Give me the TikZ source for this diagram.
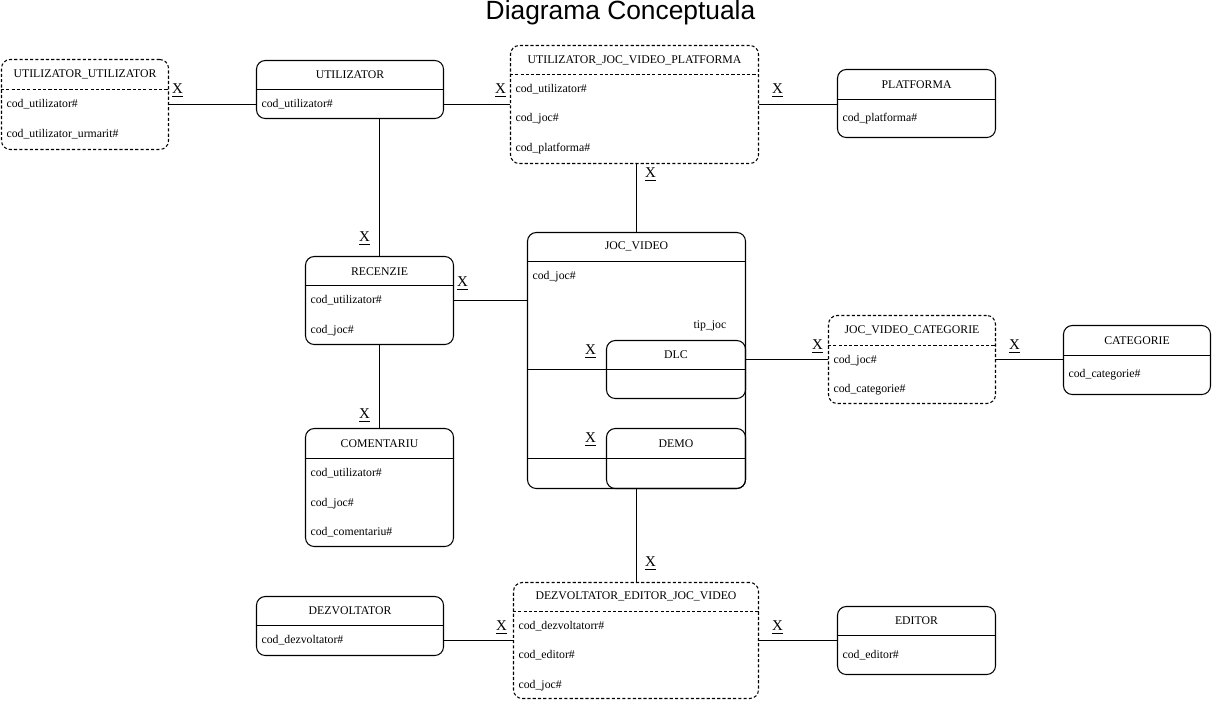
\documentclass[tikz,border=0pt]{standalone}
\usepackage{fontspec}
\setmainfont{Liberation Serif}
\newfontfamily\titlufont{Liberation Sans}
\usetikzlibrary{fit}

\tikzset{
    tabel/.style={draw, rounded corners=5pt, line width=0.6pt, inner sep=0pt},
    asoc/.style={tabel, dash pattern=on 1.8pt off 1.2pt},
    antet/.style={inner sep=1pt, font=\fontsize{6.7}{8}\selectfont},
    atribut/.style={anchor=west, inner sep=1pt, font=\fontsize{6.7}{8}\selectfont},
    card/.style={inner sep=0pt, font=\fontsize{8.5}{9}\selectfont},
    legatura/.style={line width=0.6pt},
}

% #1 stil, #2 nume, #3 #4 colturi, #5 y linie, #6 y titlu, #7 titlu, #8 atribute
\newcommand{\entitate}[8]{%
    \node[#1, fit={#3 #4}] (#2) {};
    \draw[#1, sharp corners] (#2.west |- 0,#5) -- (#2.east |- 0,#5);
    \node[antet] at (#2.north |- 0,#6) {#7};
    \foreach \a/\y in {#8} \node[atribut, xshift=2pt] at (#2.west |- 0,\y) {\a};
}

\begin{document}
\begin{tikzpicture}[x=0.02cm, y=-0.02cm]
    \useasboundingbox (0,0) rectangle (1212,700);
    \begin{scope}[shift={(0.5,0.5)}]
    \node[font=\titlufont\fontsize{15}{18}\selectfont] (titlu) at (620,12) {Diagrama Conceptuala};

    \entitate{asoc}{uu}{(1,59)}{(168,149)}{89}{74}{UTILIZATOR\_UTILIZATOR}{cod\_utilizator\#/104, cod\_utilizator\_urmarit\#/134}
    \entitate{tabel}{util}{(256,60)}{(443,118)}{89}{74}{UTILIZATOR}{cod\_utilizator\#/104}
    \entitate{asoc}{ujvp}{(510,45)}{(758,163)}{74}{60}{UTILIZATOR\_JOC\_VIDEO\_PLATFORMA}{cod\_utilizator\#/89, cod\_joc\#/118, cod\_platforma\#/148}
    \entitate{tabel}{plat}{(837,69)}{(995,137)}{99}{84}{PLATFORMA}{cod\_platforma\#/118}
    \entitate{tabel}{rec}{(305,256)}{(453,344)}{285}{271}{RECENZIE}{cod\_utilizator\#/300, cod\_joc\#/330}
    \entitate{tabel}{com}{(305,428)}{(453,546)}{458}{443}{COMENTARIU}{cod\_utilizator\#/473, cod\_joc\#/503, cod\_comentariu\#/532}
    \entitate{tabel}{jv}{(527,232)}{(745,488)}{261}{246}{JOC\_VIDEO}{cod\_joc\#/276}
    \entitate{tabel}{dlc}{(606,340)}{(745,398)}{369}{354}{DLC}{}
    \entitate{tabel}{demo}{(606,428)}{(745,488)}{458}{443}{DEMO}{}
    \entitate{asoc}{jvc}{(828,315)}{(995,403)}{345}{330}{JOC\_VIDEO\_CATEGORIE}{cod\_joc\#/360, cod\_categorie\#/389}
    \entitate{tabel}{cat}{(1063,325)}{(1210,394)}{355}{340}{CATEGORIE}{cod\_categorie\#/374}
    \entitate{tabel}{dez}{(256,596)}{(443,655)}{625}{610}{DEZVOLTATOR}{cod\_dezvoltator\#/640}
    \entitate{asoc}{dejv}{(513,582)}{(758,698)}{611}{596}{DEZVOLTATOR\_EDITOR\_JOC\_VIDEO}{cod\_dezvoltatorr\#/626, cod\_editor\#/655, cod\_joc\#/685}
    \entitate{tabel}{ed}{(837,606)}{(995,674)}{635}{620}{EDITOR}{cod\_editor\#/655}

    \node[atribut] (tip) at (691,325) {tip\_joc};
    \draw[legatura] (jv.west |- dlc.west) -- (dlc.west);
    \draw[legatura] (jv.west |- demo.west) -- (demo.west);

    % legaturi
    \draw[legatura] (uu.east) -- (uu.east -| util.west);
    \draw[legatura] (ujvp.west -| util.east) -- (ujvp.west);
    \draw[legatura] (ujvp.east) -- (ujvp.east -| plat.west);
    \draw[legatura] (rec.north) -- (rec.north |- util.south);
    \draw[legatura] (jv.north) -- (jv.north |- ujvp.south);
    \draw[legatura] (rec.east) -- (rec.east -| jv.west);
    \draw[legatura] (rec.south) -- (com.north);
    \draw[legatura] (jvc.west) -- (jvc.west -| dlc.east);
    \draw[legatura] (jvc.east) -- (jvc.east -| cat.west);
    \draw[legatura] (jv.south) -- (jv.south |- dejv.north);
    \draw[legatura] (dejv.west) -- (dejv.west -| dez.east);
    \draw[legatura] (dejv.east) -- (dejv.east -| ed.west);

    % cardinalitati
    \node[card] (c1) at (177,90) {\underline{X}};
    \node[card] (c2) at (500,90) {\underline{X}};
    \node[card] (c3) at (777,90) {\underline{X}};
    \node[card] (c4) at (364,238) {\underline{X}};
    \node[card] (c5) at (650,174) {\underline{X}};
    \node[card] (c6) at (462,283) {\underline{X}};
    \node[card] (c7) at (364,415) {\underline{X}};
    \node[card] (c8) at (590,351) {\underline{X}};
    \node[card] (c9) at (590,439) {\underline{X}};
    \node[card] (c10) at (817,346) {\underline{X}};
    \node[card] (c11) at (1014,346) {\underline{X}};
    \node[card] (c12) at (650,563) {\underline{X}};
    \node[card] (c13) at (501,627) {\underline{X}};
    \node[card] (c14) at (777,627) {\underline{X}};
    \end{scope}
\end{tikzpicture}
\end{document}
